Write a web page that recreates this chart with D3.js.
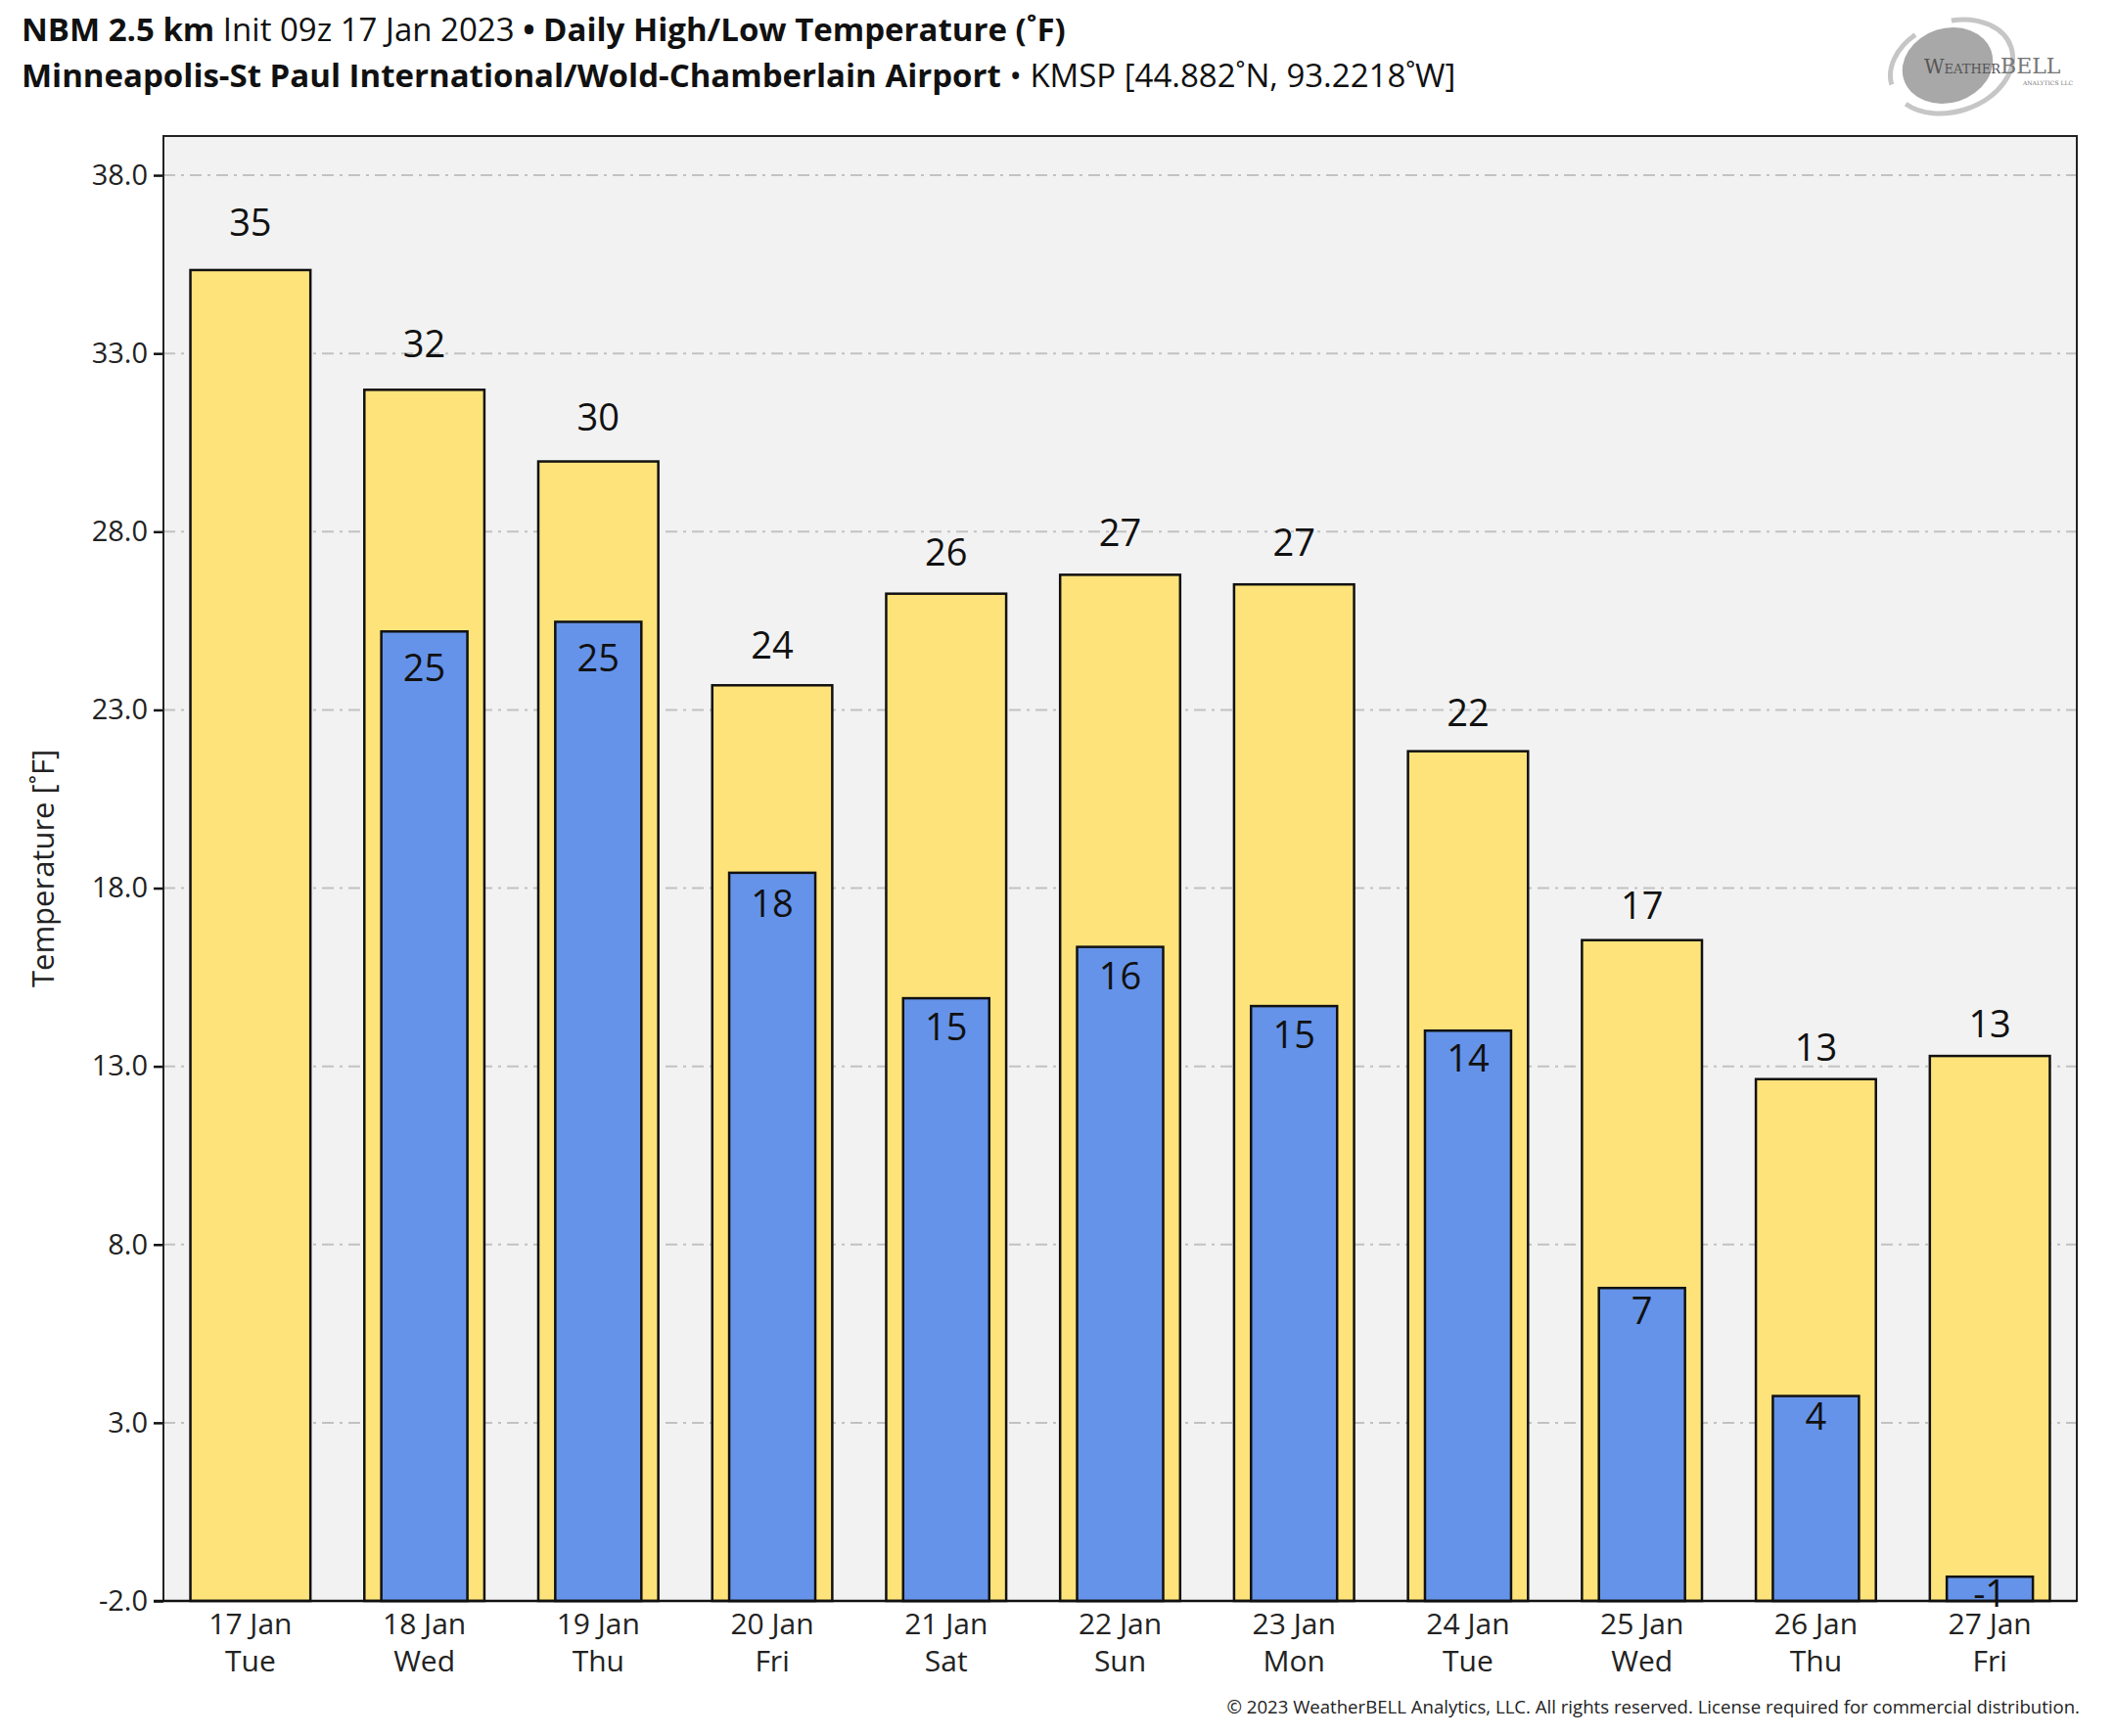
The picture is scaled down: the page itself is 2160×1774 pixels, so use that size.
<!DOCTYPE html>
<html>
<head>
<meta charset="utf-8">
<script src="https://cdn.jsdelivr.net/npm/d3@7"></script>
<style>
  body { margin: 0; background: #fff; }
  text { font-family: "Open Sans", "Noto Sans", sans-serif; }
</style>
</head>
<body>
<svg id="chart"></svg>
<script>
// daily forecast values (F)
var days = ["17 Jan", "18 Jan", "19 Jan", "20 Jan", "21 Jan", "22 Jan", "23 Jan", "24 Jan", "25 Jan", "26 Jan", "27 Jan"]
var weekdays = ["Tue", "Wed", "Thu", "Fri", "Sat", "Sun", "Mon", "Tue", "Wed", "Thu", "Fri"]
var highs = [35.34, 31.98, 29.97, 23.69, 26.26, 26.79, 26.52, 21.84, 16.54, 12.64, 13.29]
var lows = [null, 25.2, 25.47, 18.43, 14.91, 16.35, 14.69, 14.0, 6.78, 3.75, -1.32]
var yTicks = [-2, 3, 8, 13, 18, 23, 28, 33, 38]

var dimensions = {
  width: 2160,
  height: 1774,
  margin: { top: 139, bottom: 138, left: 167, right: 38 }
}

var svg = d3.select("#chart")
  .attr("width", dimensions.width)
  .attr("height", dimensions.height)

var x0 = dimensions.margin.left
var x1 = dimensions.width - dimensions.margin.right
var yBottom = dimensions.height - dimensions.margin.bottom
var yTop = dimensions.margin.top

var xScale = d3.scaleBand()
  .domain(days)
  .range([x0, x1])
  .padding(0)

var yScale = d3.scaleLinear()
  .domain([-2, 39.1])
  .range([yBottom, yTop])

// plot background
svg.append("rect")
  .attr("x", x0).attr("y", yTop)
  .attr("width", x1 - x0).attr("height", yBottom - yTop)
  .attr("fill", "#f2f2f2")

// dash-dot grid
svg.append("g")
  .selectAll("line")
  .data(yTicks)
  .enter()
  .append("line")
  .attr("x1", x0).attr("x2", x1)
  .attr("y1", d => yScale(d)).attr("y2", d => yScale(d))
  .attr("stroke", "#c2c2c2")
  .attr("stroke-width", 2)
  .attr("stroke-dasharray", "12,6,3,6")

var bw = xScale.bandwidth()
var highW = bw * 0.69
var lowW = bw * 0.495

svg.append("g")
  .selectAll("rect")
  .data(highs)
  .enter()
  .append("rect")
  .attr("x", (d, i) => xScale(days[i]) + (bw - highW) / 2)
  .attr("y", d => yScale(d))
  .attr("width", highW)
  .attr("height", d => yBottom - yScale(d))
  .attr("fill", "#fde37a")
  .attr("stroke", "#111")
  .attr("stroke-width", 2.5)

var lowData = lows.map((d, i) => ({ day: days[i], v: d })).filter(d => d.v !== null)

svg.append("g")
  .selectAll("rect")
  .data(lowData)
  .enter()
  .append("rect")
  .attr("x", d => xScale(d.day) + (bw - lowW) / 2)
  .attr("y", d => yScale(d.v))
  .attr("width", lowW)
  .attr("height", d => yBottom - yScale(d.v))
  .attr("fill", "#6593e9")
  .attr("stroke", "#111")
  .attr("stroke-width", 2.5)

// value labels (placed in data units, a bit above / below the bar ends)
svg.append("g")
  .selectAll("text")
  .data(highs)
  .enter()
  .append("text")
  .attr("x", (d, i) => xScale(days[i]) + bw / 2)
  .attr("y", d => yScale(d * 1.02 + 0.64))
  .attr("dy", "0.36em")
  .attr("text-anchor", "middle")
  .attr("font-size", 38)
  .attr("fill", "#111")
  .text(d => Math.round(d))

svg.append("g")
  .selectAll("text")
  .data(lowData)
  .enter()
  .append("text")
  .attr("x", d => xScale(d.day) + bw / 2)
  .attr("y", d => yScale(d.v * 0.98 - 0.5))
  .attr("dy", "0.36em")
  .attr("text-anchor", "middle")
  .attr("font-size", 38)
  .attr("fill", "#111")
  .text(d => Math.round(d.v))

// axes
var yAxisGen = d3.axisLeft().scale(yScale)
  .tickValues(yTicks)
  .tickFormat(d => d3.format(".1f")(d).replace("−", "-"))
  .tickSize(10)
  .tickSizeOuter(0)
var yAxis = svg.append("g")
  .call(yAxisGen)
  .attr("transform", `translate(${x0},0)`)
yAxis.select(".domain").remove()
yAxis.selectAll("line").attr("stroke", "#111").attr("stroke-width", 2.5)
yAxis.selectAll("text")
  .attr("font-size", 29)
  .attr("fill", "#222")
  .attr("x", -16)
  .style("font-family", "'Open Sans', sans-serif")

var xAxisGen = d3.axisBottom().scale(xScale).tickSize(0).tickSizeOuter(0)
var xAxis = svg.append("g")
  .call(xAxisGen)
  .attr("transform", `translate(0,${yBottom})`)
xAxis.select(".domain").remove()
xAxis.selectAll("text").remove()
xAxis.selectAll(".tick").append("text")
  .attr("text-anchor", "middle")
  .attr("font-size", 30)
  .attr("fill", "#222")
  .each(function(d, i) {
    var t = d3.select(this)
    t.append("tspan").attr("x", 0).attr("y", 34).text(d)
    t.append("tspan").attr("x", 0).attr("y", 72).text(weekdays[i])
  })

// frame
svg.append("rect")
  .attr("x", x0).attr("y", yTop)
  .attr("width", x1 - x0).attr("height", yBottom - yTop)
  .attr("fill", "none")
  .attr("stroke", "#222")
  .attr("stroke-width", 2)
svg.append("line")
  .attr("x1", x0 - 10).attr("x2", x1)
  .attr("y1", yBottom).attr("y2", yBottom)
  .attr("stroke", "#111").attr("stroke-width", 2.5)

// y label
svg.append("text")
  .attr("transform", `translate(55,${(yTop + yBottom) / 2}) rotate(-90)`)
  .attr("text-anchor", "middle")
  .attr("font-size", 31)
  .attr("fill", "#222")
  .text("Temperature [˚F]")

// titles
var t1 = svg.append("text").attr("x", 22).attr("y", 42).attr("font-size", 33).attr("fill", "#111")
t1.append("tspan").attr("font-weight", "bold").text("NBM 2.5 km")
t1.append("tspan").text(" Init 09z 17 Jan 2023 ")
t1.append("tspan").attr("font-weight", "bold").text("• Daily High/Low Temperature (˚F)")

var t2 = svg.append("text").attr("x", 22).attr("y", 89).attr("font-size", 33).attr("fill", "#111")
t2.append("tspan").attr("font-weight", "bold").text("Minneapolis-St Paul International/Wold-Chamberlain Airport")
t2.append("tspan").text(" • KMSP [44.882˚N, 93.2218˚W]")

svg.append("text")
  .attr("x", 2125).attr("y", 1751)
  .attr("text-anchor", "end")
  .attr("font-size", 18.6)
  .attr("fill", "#222")
  .text("© 2023 WeatherBELL Analytics, LLC. All rights reserved. License required for commercial distribution.")

// logo (rough)
var logo = svg.append("g")
logo.append("ellipse").attr("cx", 1994).attr("cy", 68).attr("rx", 64).attr("ry", 46)
  .attr("fill", "none").attr("stroke", "#c6c6c6").attr("stroke-width", 5)
  .attr("stroke-dasharray", "150,25,60,40")
  .attr("transform", "rotate(-18,1994,68)")
logo.append("ellipse").attr("cx", 1990).attr("cy", 67).attr("rx", 47).attr("ry", 38)
  .attr("fill", "#a8a8a8")
  .attr("transform", "rotate(-18,1990,67)")
var lt = logo.append("text").attr("x", 1966).attr("y", 75)
  .style("font-family", "'DejaVu Serif', 'Liberation Serif', serif").attr("fill", "#555")
lt.append("tspan").attr("font-size", 20).text("W")
lt.append("tspan").attr("font-size", 13).text("EATHER")
lt.append("tspan").attr("font-size", 22).attr("fill", "#777").text("BELL")
logo.append("text").attr("x", 2118).attr("y", 87).attr("text-anchor", "end")
  .attr("font-size", 6).attr("fill", "#777")
  .style("font-family", "'DejaVu Serif', serif")
  .text("ANALYTICS LLC")
</script>
</body>
</html>
